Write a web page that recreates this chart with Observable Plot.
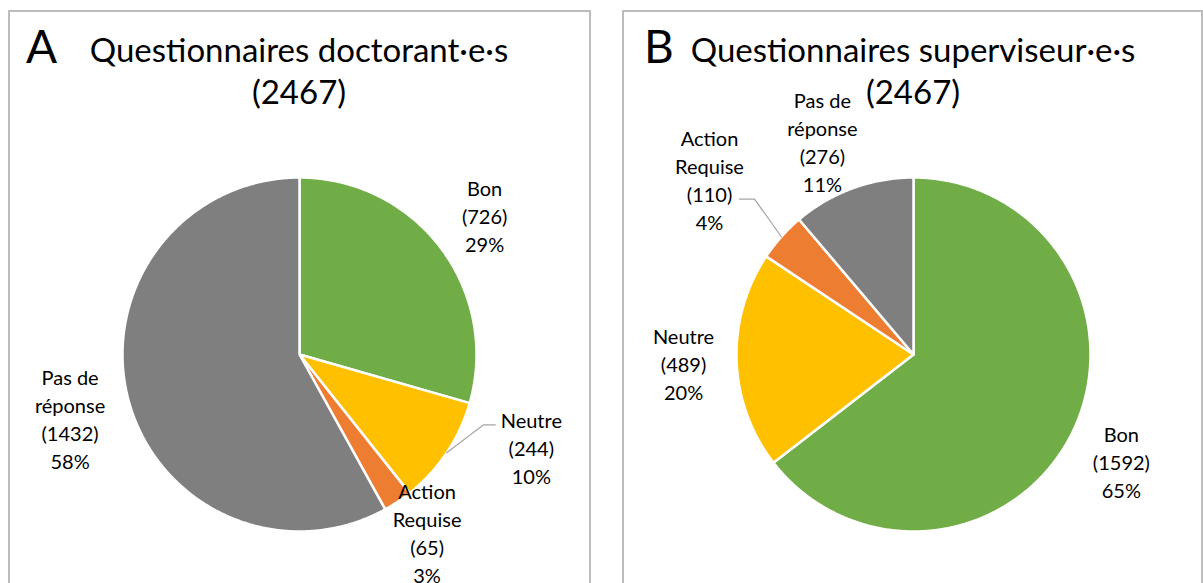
<!DOCTYPE html>
<html><head><meta charset="utf-8">
<script src="https://cdn.jsdelivr.net/npm/d3@7"></script>
<script src="https://cdn.jsdelivr.net/npm/@observablehq/plot@0.6"></script>
<style>
body{margin:0;background:#fff;font-family:Lato, sans-serif;}
#root{position:relative;width:1203px;height:583px;overflow:hidden;background:#fff}
.panel{position:absolute;border:2px solid #bcbcbc;box-sizing:border-box;}
.letter{position:absolute;font-size:46px;line-height:46px;color:#000;white-space:nowrap}
.title{position:absolute;width:600px;text-align:center;font-size:33px;line-height:42px;color:#000;white-space:pre}
.plot{position:absolute;}
</style></head><body><div id="root"></div>
<script>
// ---- data ----
const categories = ["Bon", "Neutre", "Action Requise", "Pas de réponse"];
const labelNames = ["Bon", "Neutre", "Action\nRequise", "Pas de\nréponse"];
const colors = ["#70AD47", "#FFC000", "#ED7D31", "#7F7F7F"];
const doctorantValues = [726, 244, 65, 1432];
const superviseurValues = [1592, 489, 110, 276];
const panelLetters = ["A", "B"];
const panelTitles = ["Questionnaires doctorant·e·s", "Questionnaires superviseur·e·s"];

// ---- layout (not data) ----
const R = 177;
const panels = [
  {values: doctorantValues, left: 8, width: 583, letterX: 26, cx: 291,
   labels: [{da: 0, k: 1.31}, {da: -12, k: 1.41}, {da: -2, k: 1.235}, {da: -1, k: 1.345}],
   leaders: {1: {dx: -36, dy: -22, elbow: -12}}},
  {values: superviseurValues, left: 622, width: 581, letterX: 644, cx: 291,
   labels: [{da: 1, k: 1.32}, {da: 0, k: 1.30}, {da: -1, k: 1.52}, {da: -3, k: 1.31}],
   leaders: {2: {dx: 30, dy: 20, elbow: 15}}}
];
const top0 = 10, svgH = 573, cy = 344;

const root = document.getElementById("root");
const rad = d => d * Math.PI / 180;

panels.forEach((p, pi) => {
  const box = document.createElement("div");
  box.className = "panel";
  Object.assign(box.style, {left: p.left + "px", top: top0 + "px", width: p.width + "px", height: "640px"});
  root.appendChild(box);

  const values = p.values;
  const total = d3.sum(values);
  let acc = 0;
  const slices = values.map((v, i) => {
    const a0 = acc / total * 360; acc += v; const a1 = acc / total * 360;
    return {cat: categories[i], name: labelNames[i], value: v, a0, a1, mid: (a0 + a1) / 2,
            pct: Math.round(v / total * 100)};
  });
  const pts = [];
  for (const s of slices) {
    pts.push({cat: s.cat, x: 0, y: 0});
    const n = Math.max(2, Math.ceil((s.a1 - s.a0) / 0.5));
    for (let j = 0; j <= n; j++) {
      const a = rad(s.a0 + (s.a1 - s.a0) * j / n);
      pts.push({cat: s.cat, x: Math.sin(a), y: Math.cos(a)});
    }
  }
  const labels = slices.map((s, i) => {
    const L = p.labels[i];
    const a = rad(s.mid + L.da);
    return {cat: s.cat, x: L.k * Math.sin(a), y: L.k * Math.cos(a),
            text: `${s.name}\n(${s.value})\n${s.pct}%`};
  });
  const leaderPts = [];
  for (const [idx, Ld] of Object.entries(p.leaders)) {
    const s = slices[idx], lab = labels[idx];
    const a = rad(s.mid);
    const ex = lab.x + Ld.dx / R, ey = lab.y - Ld.dy / R;
    leaderPts.push({cat: s.cat, x: Math.sin(a), y: Math.cos(a)});
    leaderPts.push({cat: s.cat, x: ex + Ld.elbow / R, y: ey});
    leaderPts.push({cat: s.cat, x: ex, y: ey});
  }

  const chart = Plot.plot({
    width: p.width, height: svgH, margin: 0,
    x: {domain: [-1, 1], range: [p.cx - R, p.cx + R], axis: null},
    y: {domain: [-1, 1], range: [cy + R, cy - R], axis: null},
    color: {domain: categories, range: colors},
    style: {background: "transparent", fontFamily: "Lato, sans-serif", overflow: "visible"},
    marks: [
      Plot.line(pts, {x: "x", y: "y", z: "cat", fill: "cat", stroke: "white", strokeWidth: 2.5,
                      strokeLinejoin: "round", curve: "linear-closed"}),
      Plot.line(leaderPts, {x: "x", y: "y", z: "cat", stroke: "#a6a6a6", strokeWidth: 1.2}),
      Plot.text(labels, {x: "x", y: "y", text: "text", fontSize: 20, lineHeight: 1.4, fill: "#000"})
    ]
  });
  chart.classList.add("plot");
  Object.assign(chart.style, {left: p.left + "px", top: top0 + "px"});
  root.appendChild(chart);

  const letter = document.createElement("div");
  letter.className = "letter";
  letter.textContent = panelLetters[pi];
  Object.assign(letter.style, {left: p.letterX + "px", top: "23px"});
  root.appendChild(letter);

  const title = document.createElement("div");
  title.className = "title";
  title.textContent = panelTitles[pi] + "\n(" + total + ")";
  Object.assign(title.style, {left: (p.left + p.cx - 300) + "px", top: "28px"});
  root.appendChild(title);
});
</script></body></html>
